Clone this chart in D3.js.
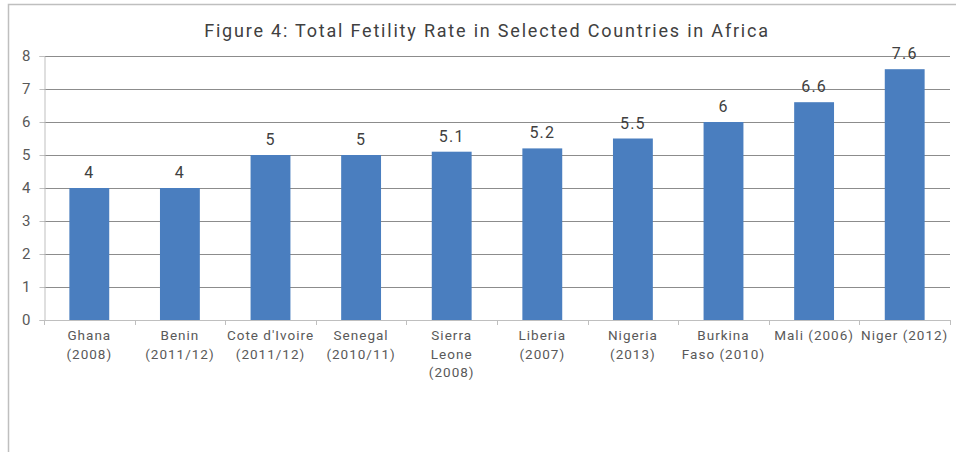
<!DOCTYPE html>
<html lang="en">
<head>
    <meta charset="UTF-8">
    <title>Total Fetility Rate</title>
    <script src="https://d3js.org/d3.v7.min.js"></script>
    <style>
        body { margin: 0; background: #fff; }
        text { font-family: Roboto, "Liberation Sans", sans-serif; }
    </style>
</head>
<body>
    <script>
        // data
        var countries = [
            ['Ghana', '(2008)'],
            ['Benin', '(2011/12)'],
            ["Cote d'Ivoire", '(2011/12)'],
            ['Senegal', '(2010/11)'],
            ['Sierra', 'Leone', '(2008)'],
            ['Liberia', '(2007)'],
            ['Nigeria', '(2013)'],
            ['Burkina', 'Faso (2010)'],
            ['Mali (2006)'],
            ['Niger (2012)']
        ];
        var rates = [4, 4, 5, 5, 5.1, 5.2, 5.5, 6, 6.6, 7.6];
        var yTicks = [0, 1, 2, 3, 4, 5, 6, 7, 8];
        var title = 'Figure 4: Total Fetility Rate in Selected Countries in Africa';

        var w = 956, h = 452;
        var plotLeft = 44, plotRight = 950, plotTop = 56, plotBottom = 320;

        var svg = d3.select('body')
                    .append('svg')
                    .attr('width', w)
                    .attr('height', h)

        // outer frame (only left and top edges show)
        svg.append('path')
            .attr('d', 'M8.5,' + h + 'V4.5H' + w)
            .attr('fill', 'none')
            .attr('stroke', '#bfbfbf')
            .attr('stroke-width', 1.5)

        svg.append('text')
            .attr('x', 487)
            .attr('y', 37)
            .attr('text-anchor', 'middle')
            .attr('font-size', 18)
            .attr('letter-spacing', 1.8)
            .attr('fill', '#404040')
            .text(title)

        var idx = d3.range(rates.length);
        var xScale = d3.scaleBand()
                        .domain(idx)
                        .range([plotLeft, plotRight])
                        .paddingInner(0.56)
                        .paddingOuter(0.28)

        var yScale = d3.scaleLinear()
                        .domain([0, 8])
                        .range([plotBottom, plotTop])

        // gridlines
        svg.append('g')
            .selectAll('line')
            .data(yTicks.slice(1))
            .enter()
            .append('line')
            .attr('x1', plotLeft)
            .attr('x2', plotRight)
            .attr('y1', d => Math.round(yScale(d)) + 0.5)
            .attr('y2', d => Math.round(yScale(d)) + 0.5)
            .attr('stroke', '#8c8c8c')

        // y axis
        var yAxis = d3.axisLeft(yScale)
                        .tickValues(yTicks)
                        .tickSize(5)
                        .tickPadding(9)
        var gy = svg.append('g')
            .attr('transform', 'translate(' + (plotLeft + 0.5) + ',0)')
            .call(yAxis)
        gy.select('.domain').attr('stroke', '#bfbfbf')
        gy.selectAll('.tick line').attr('stroke', '#bfbfbf')
        gy.selectAll('.tick text')
            .attr('font-size', 15)
            .attr('fill', '#595959')
            .attr('font-family', 'Roboto, sans-serif')

        // bars
        svg.selectAll('rect.bar')
            .data(rates)
            .enter()
            .append('rect')
            .attr('class', 'bar')
            .attr('x', (d, i) => xScale(i))
            .attr('y', d => yScale(d))
            .attr('width', xScale.bandwidth())
            .attr('height', d => yScale(0) - yScale(d))
            .attr('fill', '#4a7ebf')

        // value labels
        svg.selectAll('text.val')
            .data(rates)
            .enter()
            .append('text')
            .attr('class', 'val')
            .attr('x', (d, i) => xScale(i) + xScale.bandwidth() / 2)
            .attr('y', d => yScale(d) - 10)
            .attr('text-anchor', 'middle')
            .attr('font-size', 16)
            .attr('letter-spacing', 1.2)
            .attr('fill', '#404040')
            .text(d => d)

        // x axis line with ticks at category edges
        var step = (plotRight - plotLeft) / rates.length;
        svg.append('line')
            .attr('x1', plotLeft)
            .attr('x2', plotRight)
            .attr('y1', plotBottom + 0.5)
            .attr('y2', plotBottom + 0.5)
            .attr('stroke', '#bfbfbf')
        svg.append('g')
            .selectAll('line')
            .data(d3.range(rates.length + 1))
            .enter()
            .append('line')
            .attr('x1', d => Math.round(plotLeft + d * step) + 0.5)
            .attr('x2', d => Math.round(plotLeft + d * step) + 0.5)
            .attr('y1', plotBottom)
            .attr('y2', plotBottom + 5)
            .attr('stroke', '#bfbfbf')

        // category labels
        var cat = svg.append('g')
            .selectAll('text')
            .data(countries)
            .enter()
            .append('text')
            .attr('x', (d, i) => xScale(i) + xScale.bandwidth() / 2)
            .attr('y', 340)
            .attr('text-anchor', 'middle')
            .attr('font-size', 13.5)
            .attr('letter-spacing', 1)
            .attr('fill', '#595959')
        cat.selectAll('tspan')
            .data(d => d)
            .enter()
            .append('tspan')
            .attr('x', function () { return this.parentNode.getAttribute('x'); })
            .attr('dy', (d, i) => i == 0 ? 0 : 18.5)
            .text(d => d)
    </script>
</body>
</html>
